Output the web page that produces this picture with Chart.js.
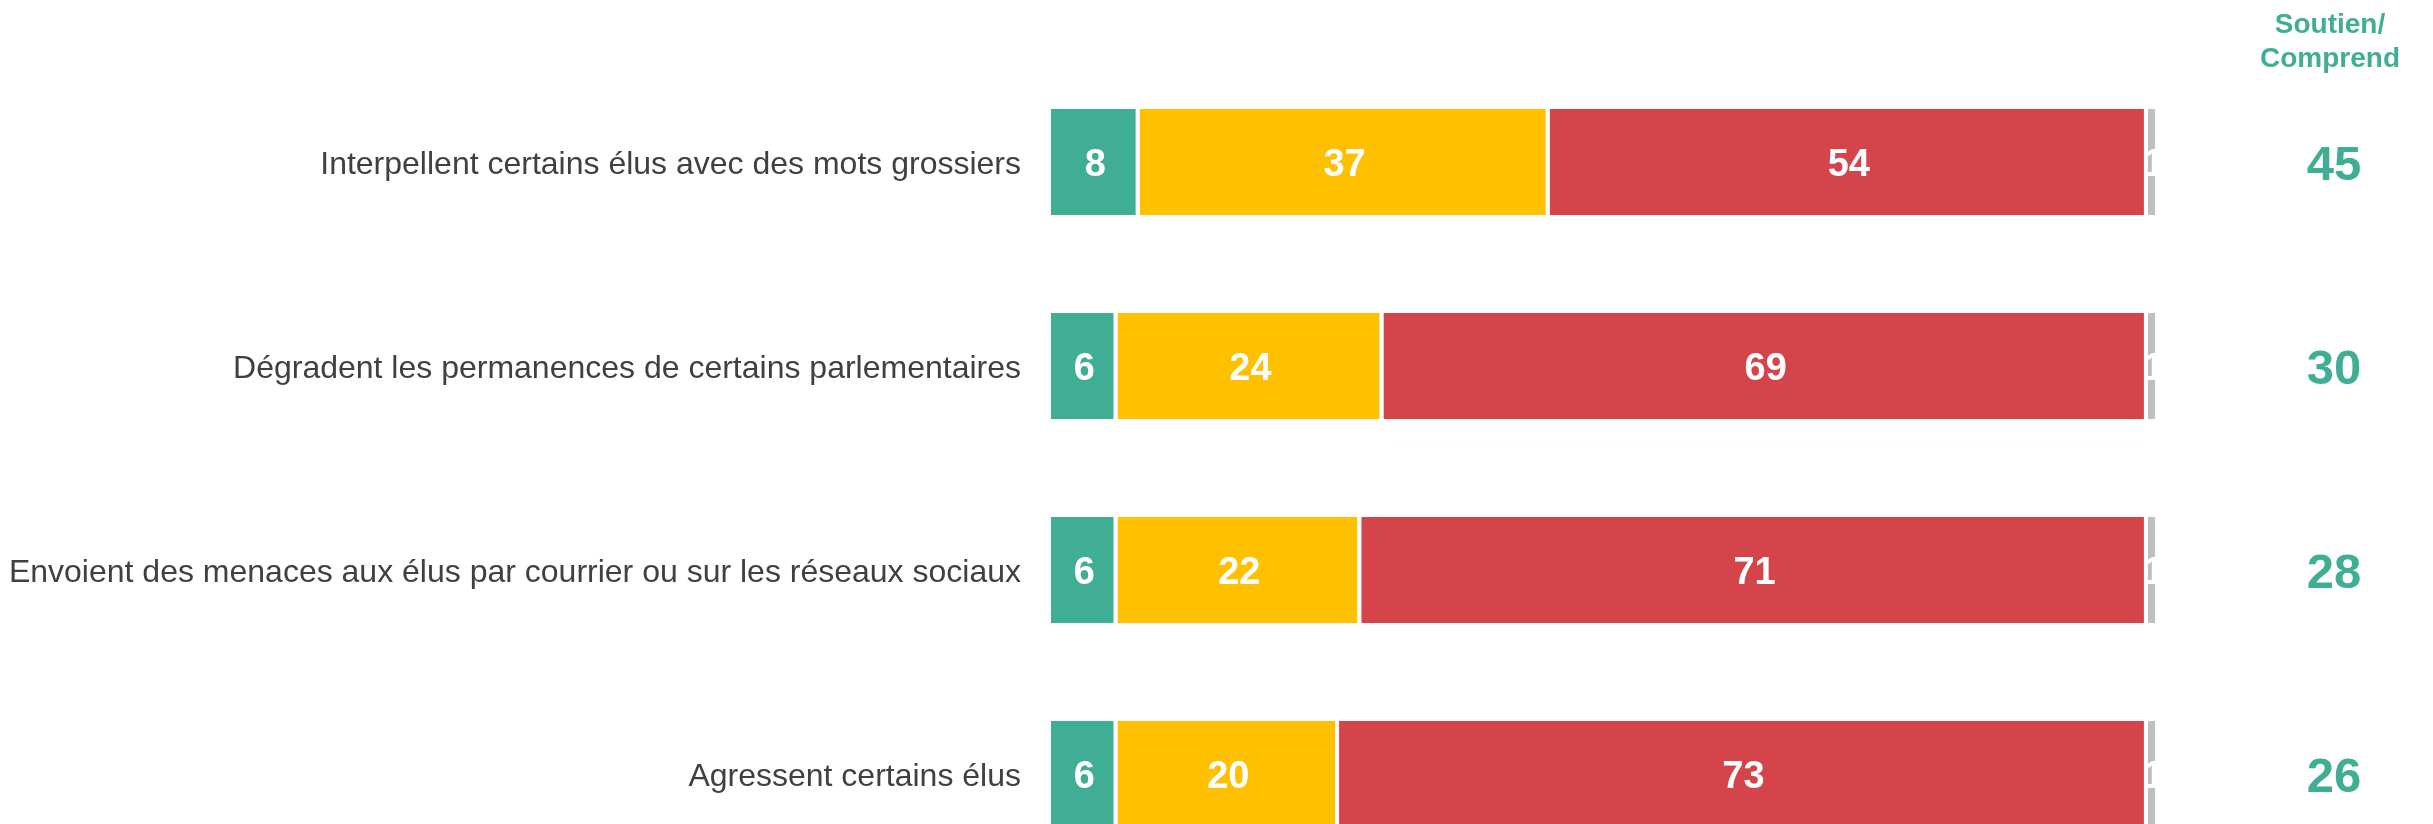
<!DOCTYPE html>
<html lang="fr">
<head>
<meta charset="utf-8">
<title>Soutien aux actions contre les élus</title>
<script src="https://cdn.jsdelivr.net/npm/chart.js@4.4.1/dist/chart.umd.min.js"></script>
<style>
  html, body { margin: 0; padding: 0; background: #fff; overflow: hidden; }
  canvas { display: block; }
</style>
</head>
<body>
<canvas id="actionsChart" width="2433" height="824"></canvas>
<script>
// ================= DATA =================
const categories = [
  "Interpellent certains élus avec des mots grossiers",
  "Dégradent les permanences de certains parlementaires",
  "Envoient des menaces aux élus par courrier ou sur les réseaux sociaux",
  "Agressent certains élus"
];
const soutient = [8, 6, 6, 6];
const comprend = [37, 24, 22, 20];
const condamne = [54, 69, 71, 73];
const nsp = [1, 1, 1, 1];
const soutienComprend = [45, 30, 28, 26];
const headerLines = ["Soutien/", "Comprend"];

const GREEN = "#40ae94";
const YELLOW = "#ffc000";
const RED = "#d6444b";
const GRAY = "#bfbfbf";
const FONT = "'Liberation Sans', Arial, sans-serif";

// plot area runs past the canvas bottom (last row is cut off)
const AREA_BOTTOM = 876;

// ================= PLUGINS =================
const extendArea = {
  id: "extendArea",
  afterLayout(chart) {
    const y = chart.scales.y;
    y.bottom = AREA_BOTTOM;
    y.height = y.bottom - y.top;
    y.configure();
    chart.chartArea.bottom = AREA_BOTTOM;
    chart.chartArea.height = AREA_BOTTOM - chart.chartArea.top;
  }
};

// white value inside each bar segment
const segmentLabels = {
  id: "segmentLabels",
  afterDatasetsDraw(chart) {
    const ctx = chart.ctx;
    ctx.save();
    ctx.font = "bold 38px " + FONT;
    ctx.fillStyle = "#fff";
    ctx.textAlign = "center";
    ctx.textBaseline = "alphabetic";
    chart.data.datasets.forEach((ds, di) => {
      const meta = chart.getDatasetMeta(di);
      meta.data.forEach((bar, i) => {
        const p = bar.getCenterPoint();
        ctx.fillText(String(ds.data[i]), p.x, p.y + 38 * 0.36);
      });
    });
    ctx.restore();
  }
};

// "Soutien/Comprend" column on the right
const totalColumn = {
  id: "totalColumn",
  afterDraw(chart) {
    const ctx = chart.ctx;
    const y = chart.scales.y;
    ctx.save();
    ctx.fillStyle = GREEN;
    ctx.textAlign = "center";
    ctx.textBaseline = "alphabetic";

    ctx.font = "bold 28px " + FONT;
    headerLines.forEach((line, i) => {
      ctx.fillText(line, 2330, 33 + i * 34);
    });

    ctx.font = "bold 49px " + FONT;
    soutienComprend.forEach((v, i) => {
      ctx.fillText(String(v), 2334, y.getPixelForTick(i) + 49 * 0.36);
    });
    ctx.restore();
  }
};

// ================= CHART =================
function makeDataset(label, data, color) {
  return {
    label,
    data,
    backgroundColor: color,
    borderColor: "#fff",
    borderWidth: { top: 0, right: 4, bottom: 0, left: 0 },
    borderSkipped: false,
    barPercentage: 0.52,
    categoryPercentage: 1
  };
}

new Chart(document.getElementById("actionsChart"), {
  type: "bar",
  data: {
    labels: categories,
    datasets: [
      makeDataset("Soutient", soutient, GREEN),
      makeDataset("Comprend", comprend, YELLOW),
      makeDataset("Condamne", condamne, RED),
      makeDataset("NSP", nsp, GRAY)
    ]
  },
  options: {
    indexAxis: "y",
    responsive: false,
    animation: false,
    layout: { padding: { top: 60, right: 274, bottom: 0, left: 0 } },
    plugins: {
      legend: { display: false },
      tooltip: { enabled: false }
    },
    scales: {
      x: {
        stacked: true,
        min: 0,
        max: 100,
        display: false
      },
      y: {
        stacked: true,
        border: { display: false },
        grid: { display: false, drawTicks: false },
        ticks: {
          padding: 30,
          labelOffset: 3,
          color: "#404040",
          font: { family: FONT, size: 32 }
        },
        afterFit(axis) {
          axis.width = 1051;
        }
      }
    }
  },
  plugins: [extendArea, segmentLabels, totalColumn]
});
</script>
</body>
</html>
